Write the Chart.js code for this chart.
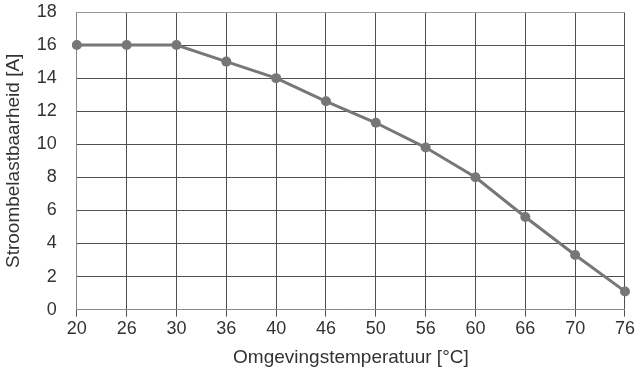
<!DOCTYPE html>
<html>
<head>
<meta charset="utf-8">
<script src="https://cdn.jsdelivr.net/npm/chart.js@4"></script>
<style>
  html, body { margin: 0; padding: 0; background: #fff; }
  #wrap { width: 637px; height: 369px; position: relative; }
</style>
</head>
<body>
<div id="wrap"><canvas id="chart"></canvas></div>
<script>
"use strict";

const temperatures = ["20", "26", "30", "36", "40", "46", "50", "56", "60", "66", "70", "76"];
const currentValues = [16, 16, 16, 15, 14, 12.6, 11.3, 9.8, 8, 5.6, 3.3, 1.1];
const yTitle = "Stroombelastbaarheid [A]";
const xTitle = "Omgevingstemperatuur [°C]";

const gridColor = "#505050";
const textColor = "#333333";
const fontFamily = "Liberation Sans";

let ctx = document.getElementById("chart").getContext("2d");
new Chart(ctx, {
    type: "line",
    data: {
        labels: temperatures,
        datasets: [{
            data: currentValues,
            borderColor: "#777777",
            backgroundColor: "#777777",
            borderWidth: 3,
            pointRadius: 5,
            pointBorderWidth: 0,
            tension: 0
        }]
    },
    options: {
        responsive: true,
        maintainAspectRatio: false,
        animation: false,
        layout: { padding: { top: 1, right: 10, left: 2, bottom: 0 } },
        plugins: {
            legend: { display: false },
            tooltip: { enabled: false }
        },
        scales: {
            x: {
                type: "category",
                offset: false,
                grid: { color: gridColor, lineWidth: 1, tickLength: 7 },
                border: { color: "#888888" },
                ticks: { color: textColor, font: { family: fontFamily, size: 18 }, padding: 2, maxRotation: 0, autoSkip: false },
                title: { display: true, text: xTitle, color: textColor, font: { family: fontFamily, size: 19 }, padding: { top: 4, bottom: 0 } }
            },
            y: {
                min: 0,
                max: 18,
                grid: { color: c => c.tick.value === 18 ? "#9a9a9a" : gridColor, lineWidth: 1, tickLength: 17, tickColor: "rgba(0,0,0,0)" },
                border: { color: "#888888" },
                ticks: { stepSize: 2, color: textColor, font: { family: fontFamily, size: 18, lineHeight: 1.0 }, padding: 3 },
                title: { display: true, text: yTitle, color: textColor, font: { family: fontFamily, size: 19 }, padding: { top: 0, bottom: 9 } }
            }
        }
    }
});
</script>
</body>
</html>
